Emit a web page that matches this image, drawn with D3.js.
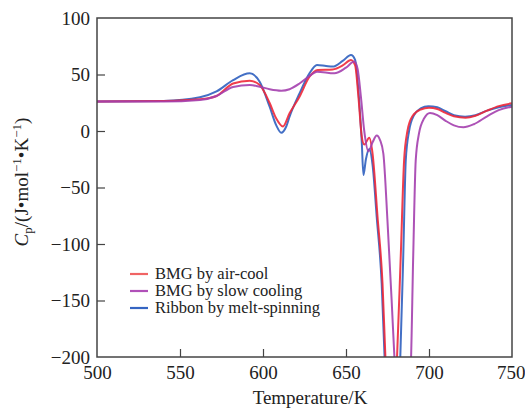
<!DOCTYPE html>
<html><head><meta charset="utf-8">
<script src="https://cdn.jsdelivr.net/npm/d3@7"></script>
<style>
body{margin:0;background:#fff;}
text{font-family:"Liberation Serif","Times New Roman",serif;fill:#222;}
</style></head>
<body><svg id="c" width="525" height="409"></svg>
<script>
const xTicks=[500,550,600,650,700,750];
const yTicks=[100,50,0,-50,-100,-150,-200];
const seriesNames=["BMG by air-cool","BMG by slow cooling","Ribbon by melt-spinning"];
const redT=[500,540,562,572,582,592,598,604,608,612,616,622,628,633,642,648,653,655.5,657.5,659.5,661,664,666,669,672,674,677,680.5,683,685,687,690,695,700,705,710,715,722,728,735,742,750];
const redC=[26,26.5,28,31,42,44.5,40.7,24.8,11,4,15.7,30.4,48,54,54.5,58,62.8,58,30,-5,-12,-6,-20,-76,-135,-210,-290,-210,-110,-26,0,13,19,20.6,19.5,16,13,11.8,13.5,18,22,24.5];
const purT=[500,540,562,572,582,592,598,604,611,616,622,628,632.5,643,650,655,657,659,661,663.5,666,668.5,670.5,672.5,675,677.5,679.5,684,689,690.5,692,694,697,700.6,705,710,715,720.7,727,735,742,750];
const purC=[26,26,27.4,31,39,40.7,39.2,37,35.7,37,42,48.7,52.5,51,56,61.4,55,30,0,-18,-10,-4,-8,-20,-80,-150,-210,-300,-210,-110,-26,-2,11,16,14,9,5,3.3,6,13,18.5,21.5];
const bluT=[500,540,562,572,582,592,598,604,608,611,614,616,622,628,632.5,638,642,648,653,655.5,657.5,659.5,660.5,662,664,666,668.5,671.5,673.5,678,682.5,684.5,686,688,691,695,699.6,705,710,715,721.7,728,735,742,750];
const bluC=[26,26.5,29.8,35,45,51,43.6,21.5,5,-1.5,4,12.7,33.3,51,58.4,57.5,57,62,67.3,63,35,-10,-39,-25,-16,-30,-76,-135,-210,-300,-210,-110,-26,0,14,20,22,21,17.5,14,12.7,14,18,21,23];

const svg=d3.select("#c");
const L=97,R=512,T=18,B=357;
const x=d3.scaleLinear().domain([500,750]).range([L,R]);
const y=d3.scaleLinear().domain([-200,100]).range([B,T]);

svg.append("defs").append("clipPath").attr("id","clip").append("rect")
 .attr("x",L).attr("y",T).attr("width",R-L).attr("height",B-T);

const line=d3.line().x(d=>x(d[0])).y(d=>y(d[1])).curve(d3.curveMonotoneX);
const series=[
 {T:bluT,C:bluC,color:"#2f5fbf"},
 {T:redT,C:redC,color:"#ee2838"},
 {T:purT,C:purC,color:"#a43fae"}
];
const g=svg.append("g").attr("clip-path","url(#clip)");
series.forEach(s=>{
 g.append("path").datum(s.T.map((t,i)=>[t,s.C[i]]))
  .attr("d",line).attr("fill","none").attr("stroke",s.color)
  .attr("stroke-width",2).attr("stroke-opacity",0.9).attr("stroke-linejoin","round");
});

// frame
svg.append("rect").attr("x",L).attr("y",T).attr("width",R-L).attr("height",B-T)
 .attr("fill","none").attr("stroke","#444").attr("stroke-width",1.5);

const fmt=d=>d<0?"\u2212"+Math.abs(d):String(d);
const xa=svg.append("g").attr("transform",`translate(0,${B})`)
 .call(d3.axisBottom(x).tickValues(xTicks).tickSize(-8).tickPadding(4).tickFormat(fmt));
const ya=svg.append("g").attr("transform",`translate(${L},0)`)
 .call(d3.axisLeft(y).tickValues(yTicks).tickSize(-8).tickPadding(7).tickFormat(fmt));
[xa,ya].forEach(a=>{
 a.select(".domain").remove();
 a.selectAll(".tick line").attr("stroke","#444").attr("stroke-width",1.2);
 a.selectAll(".tick text").style("font-size","19px").attr("fill","#222");
});
xa.selectAll(".tick text").attr("dy","0.95em");
xa.selectAll(".tick").filter(d=>d===750).select("text").attr("text-anchor","end").attr("x",13);
xa.selectAll(".tick").filter(d=>d===500||d===750).select("line").remove();
ya.selectAll(".tick").filter(d=>d===100||d===-200).select("line").remove();

svg.append("text").attr("x",310).attr("y",404).attr("text-anchor","middle")
 .style("font-size","19px").text("Temperature/K");

const yt=svg.append("text").attr("transform","translate(28,182) rotate(-90)")
 .attr("text-anchor","middle").style("font-size","19px");
yt.append("tspan").attr("font-style","italic").text("C");
yt.append("tspan").attr("dy",4).style("font-size","13px").text("p");
yt.append("tspan").attr("dy",-4).text("/(J\u2022mol");
yt.append("tspan").attr("dy",-7).style("font-size","13px").text("\u22121");
yt.append("tspan").attr("dy",7).text("\u2022K");
yt.append("tspan").attr("dy",-7).style("font-size","13px").text("\u22121");
yt.append("tspan").attr("dy",7).text(")");

const legColors=["#f06464","#b050b8","#3565c2"];
const lg=svg.append("g");
seriesNames.forEach((n,i)=>{
 const yy=274+i*17;
 lg.append("line").attr("x1",130).attr("x2",148).attr("y1",yy).attr("y2",yy)
  .attr("stroke",legColors[i]).attr("stroke-width",2.2);
 lg.append("text").attr("x",155).attr("y",yy).attr("dy","0.33em")
  .style("font-size","16.5px").text(n);
});
</script></body></html>
